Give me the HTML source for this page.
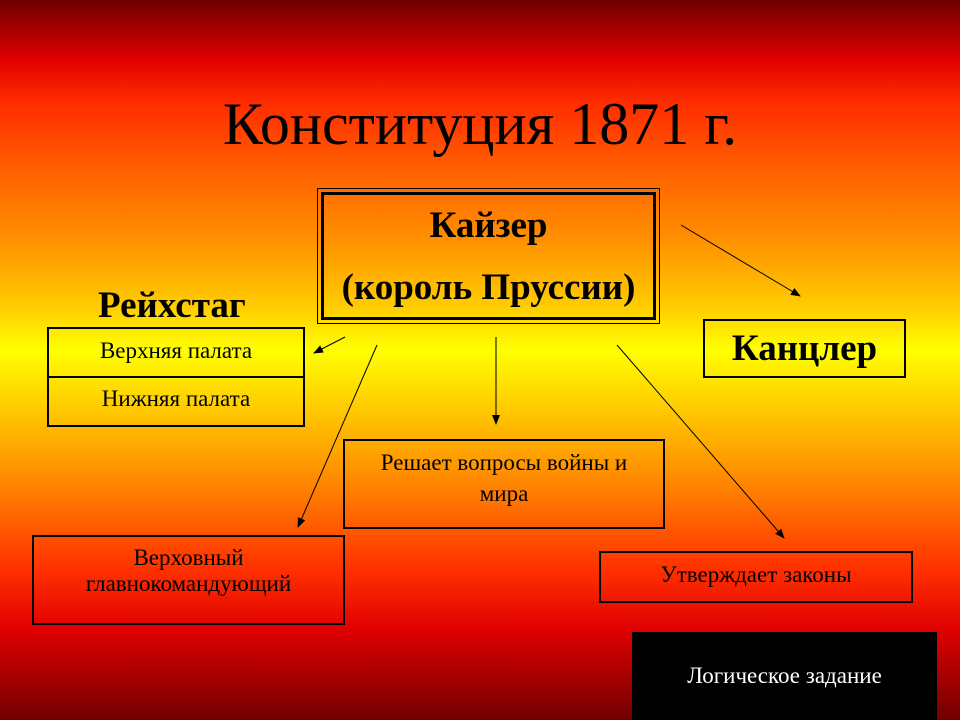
<!DOCTYPE html>
<html><head><meta charset="utf-8"><style>
body{margin:0;width:960px;height:720px;overflow:hidden;position:relative;font-family:"Liberation Serif",serif;
background:linear-gradient(to bottom,#6e0000 0px,#e00000 60px,#ff2a00 100px,#ff6000 170px,#ff9000 240px,#ffd000 310px,#ffff00 350px,#ffc000 420px,#ff8000 490px,#ff3000 570px,#e00000 630px,#700000 720px);}
.b{position:absolute;border:2px solid #000;box-sizing:border-box;text-align:center;color:#000;white-space:nowrap}
.t{position:absolute;color:#000}
</style></head><body>
<div class="t" style="left:0;width:960px;top:90px;text-align:center;font-size:60px;">Конституция 1871 г.</div>
<div class="b" style="left:317px;top:188px;width:343px;height:136px;border:1px solid #000"></div>
<div class="b" style="left:321px;top:192px;width:335px;height:128px;border:3px solid #000;font-weight:bold;font-size:37px;line-height:62px">Кайзер<br>(король Пруссии)</div>
<div class="t" style="left:98px;top:284px;font-size:37px;font-weight:bold">Рейхстаг</div>
<div class="b" style="left:47px;top:327px;width:258px;height:51px;font-size:23px;line-height:44px">Верхняя палата</div>
<div class="b" style="left:47px;top:376px;width:258px;height:51px;font-size:23px;line-height:42px">Нижняя палата</div>
<div class="b" style="left:703px;top:319px;width:203px;height:59px;font-size:37px;font-weight:bold;line-height:56px">Канцлер</div>
<div class="b" style="left:343px;top:439px;width:322px;height:90px;font-size:23px;line-height:31px;padding-top:6px">Решает вопросы войны и<br>мира</div>
<div class="b" style="left:32px;top:535px;width:313px;height:90px;font-size:23px;line-height:26px;padding-top:8px">Верховный<br>главнокомандующий</div>
<div class="b" style="left:599px;top:551px;width:314px;height:52px;font-size:23px;line-height:44px">Утверждает законы</div>
<div style="position:absolute;left:632px;top:632px;width:305px;height:88px;background:#000;color:#fff;font-size:23px;text-align:center;line-height:88px">Логическое задание</div>
<svg width="960" height="720" style="position:absolute;left:0;top:0">
<defs><marker id="a" markerWidth="10" markerHeight="8" refX="9" refY="4" orient="auto" markerUnits="userSpaceOnUse"><path d="M0,0L10,4L0,8z"/></marker></defs>
<g stroke="#000" stroke-width="1" marker-end="url(#a)">
<line x1="681" y1="225" x2="800" y2="296"/>
<line x1="345" y1="337" x2="314" y2="353"/>
<line x1="377" y1="345" x2="298" y2="527"/>
<line x1="496" y1="337" x2="496" y2="424"/>
<line x1="617" y1="345" x2="784" y2="538"/>
</g></svg>
</body></html>
